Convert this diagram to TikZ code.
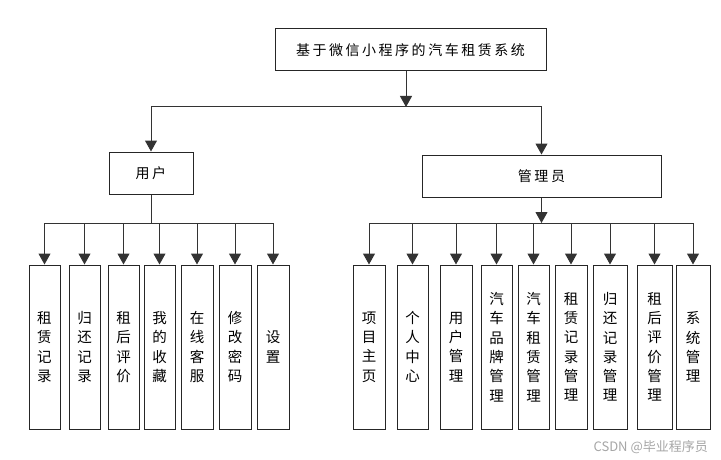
\documentclass[tikz,border=0pt]{standalone}
\usepackage{fontspec}
\setmainfont{Noto Sans CJK SC}
\newfontfamily\wideCJK[LetterSpace=18]{Noto Sans CJK SC}
\usetikzlibrary{arrows.meta}
\tikzset{
  box/.style={draw=black!85, line width=1pt, inner sep=0pt, align=center},
  headbox/.style={box, font=\wideCJK\fontsize{14}{16}\selectfont},
  leaf/.style={box, minimum height=164pt, font=\fontsize{14.5}{19.3}\selectfont},
  conn/.style={draw=black!80, line width=1pt},
  arr/.style={conn, -{Triangle[length=11pt,width=12pt]}, shorten >=0pt}
}
\begin{document}
\begin{tikzpicture}[x=1pt,y=-1pt]
\useasboundingbox (0,0) rectangle (721,460);
\fill[white] (0,0) rectangle (721,460);
% main boxes
\node[headbox, minimum width=271pt, minimum height=42pt] (top) at (410.5,50) {基于微信小程序的汽车租赁系统};
\node[headbox, minimum width=84pt, minimum height=42pt] (user) at (151,173) {用户};
\node[headbox, minimum width=239pt, minimum height=42pt] (admin) at (541.5,176) {管理员};
% user leaves
\node[leaf, minimum width=31pt] (u1) at (44.5,347) {租\\赁\\记\\录};
\node[leaf, minimum width=31pt] (u2) at (84.5,347) {归\\还\\记\\录};
\node[leaf, minimum width=31pt] (u3) at (123.5,347) {租\\后\\评\\价};
\node[leaf, minimum width=31pt] (u4) at (159.5,347) {我\\的\\收\\藏};
\node[leaf, minimum width=32pt] (u5) at (197,347) {在\\线\\客\\服};
\node[leaf, minimum width=32pt] (u6) at (235,347) {修\\改\\密\\码};
\node[leaf, minimum width=32pt] (u7) at (273,347) {设\\置};
% admin leaves
\node[leaf, minimum width=32pt] (a1) at (369,347) {项\\目\\主\\页};
\node[leaf, minimum width=31pt] (a2) at (412.5,347) {个\\人\\中\\心};
\node[leaf, minimum width=32pt] (a3) at (456,347) {用\\户\\管\\理};
\node[leaf, minimum width=31pt] (a4) at (496.5,347) {汽\\车\\品\\牌\\管\\理};
\node[leaf, minimum width=31pt] (a5) at (533.5,347) {汽\\车\\租\\赁\\管\\理};
\node[leaf, minimum width=32pt] (a6) at (571,347) {租\\赁\\记\\录\\管\\理};
\node[leaf, minimum width=34pt] (a7) at (610,347) {归\\还\\记\\录\\管\\理};
\node[leaf, minimum width=35pt] (a8) at (654.5,347) {租\\后\\评\\价\\管\\理};
\node[leaf, minimum width=34pt] (a9) at (693,347) {系\\统\\管\\理};
% junctions
\coordinate (j1) at (406,107);
\coordinate (ju) at (151,223);
\coordinate (ja) at (541.5,223);
% connectors
\draw[arr] (top.south -| j1) -- (j1);
\draw[arr] (j1) -| (user.north);
\draw[arr] (j1) -| (admin.north);
\draw[conn] (user.south) -- (ju);
\foreach \n in {u1,u2,u3,u4,u5,u6,u7} \draw[arr] (ju) -| (\n.north);
\draw[arr] (admin.south) -- (ja);
\foreach \n in {a1,a2,a3,a4,a5,a6,a7,a8,a9} \draw[arr] (ja) -| (\n.north);
% watermark
\node[text=black!35, font=\fontsize{13}{15}\selectfont, anchor=east, inner sep=0pt] (wm) at (708,447) {CSDN @毕业程序员};
\end{tikzpicture}
\end{document}
